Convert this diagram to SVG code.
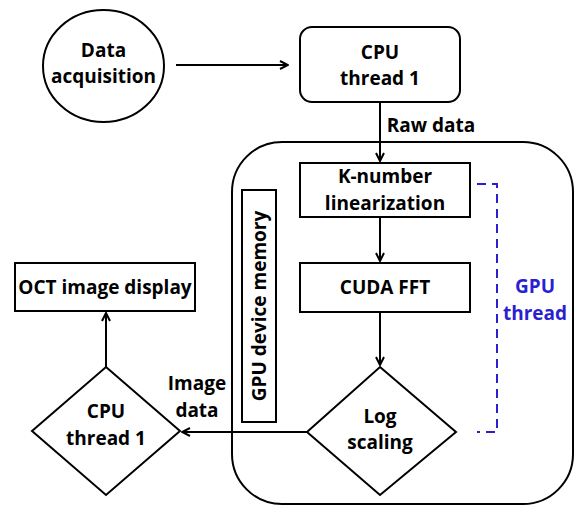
<svg xmlns="http://www.w3.org/2000/svg" width="577" height="506" viewBox="0 0 577 506">
<defs>
<style>
.s{fill:#fff;stroke:#000;stroke-width:2}
.n{fill:none;stroke:#000;stroke-width:2}
.t{font-family:"Open Sans","Liberation Sans",sans-serif;font-weight:bold;font-size:19px;fill:#000;text-anchor:middle}
.b{fill:#2b1fd0}
.c{fill:none;stroke:#000;stroke-width:2}
</style>
<marker id="ar" viewBox="0 0 10 10" refX="9" refY="5" markerWidth="10" markerHeight="10" markerUnits="userSpaceOnUse" orient="auto">
<path d="M1,1 L9,5 L1,9" fill="none" stroke="#000" stroke-width="2"/>
</marker>
</defs>
<rect x="0" y="0" width="577" height="506" fill="#fff"/>
<g id="gpu-container"><rect class="n" x="232" y="142" width="341" height="362" rx="50"/></g>
<g id="data-acquisition"><ellipse class="s" cx="103.5" cy="66" rx="60.5" ry="56"/><text class="t" x="103.5" y="57">Data</text><text class="t" x="103.5" y="83">acquisition</text></g>
<g id="cpu-thread-top"><rect class="s" x="300" y="27" width="160" height="75" rx="12"/><text class="t" x="380" y="59">CPU</text><text class="t" x="380" y="85">thread 1</text></g>
<g id="k-number"><rect class="s" x="300" y="163" width="170" height="54"/><text class="t" x="385" y="183">K-number</text><text class="t" x="385" y="210">linearization</text></g>
<g id="cuda-fft"><rect class="s" x="300" y="263" width="170" height="49"/><text class="t" x="385" y="294">CUDA FFT</text></g>
<g id="log-scaling"><polygon class="s" points="380,367 456,432 380,495 307,432"/><text class="t" x="380" y="423">Log</text><text class="t" x="380" y="449">scaling</text></g>
<g id="gpu-memory"><rect class="s" x="242" y="190" width="34" height="232"/><text class="t" transform="translate(266,306) rotate(-90)" x="0" y="0">GPU device memory</text></g>
<g id="oct-display"><rect class="s" x="15" y="263" width="180" height="48"/><text class="t" x="105" y="294">OCT image display</text></g>
<g id="cpu-thread-bottom"><polygon class="s" points="106,367 180,431 106,495 32,431"/><text class="t" x="106" y="418">CPU</text><text class="t" x="106" y="445">thread 1</text></g>
<g id="gpu-thread-label"><path d="M477,184 H497 V432 H477" fill="none" stroke="#2b1fd0" stroke-width="2" stroke-dasharray="9,6"/><text class="t b" x="535" y="293">GPU</text><text class="t b" x="535" y="320">thread</text></g>
<g id="connectors">
<line class="c" x1="176" y1="65" x2="288" y2="65" marker-end="url(#ar)"/>
<line class="c" x1="380" y1="102" x2="380" y2="161" marker-end="url(#ar)"/>
<line class="c" x1="380" y1="217" x2="380" y2="261" marker-end="url(#ar)"/>
<line class="c" x1="380" y1="312" x2="380" y2="365" marker-end="url(#ar)"/>
<line class="c" x1="307" y1="432" x2="182" y2="432" marker-end="url(#ar)"/>
<line class="c" x1="106" y1="367" x2="106" y2="313" marker-end="url(#ar)"/>
<text class="t" x="431" y="132">Raw data</text>
<text class="t" x="197" y="390">Image</text>
<text class="t" x="197" y="417">data</text>
</g>
</svg>
